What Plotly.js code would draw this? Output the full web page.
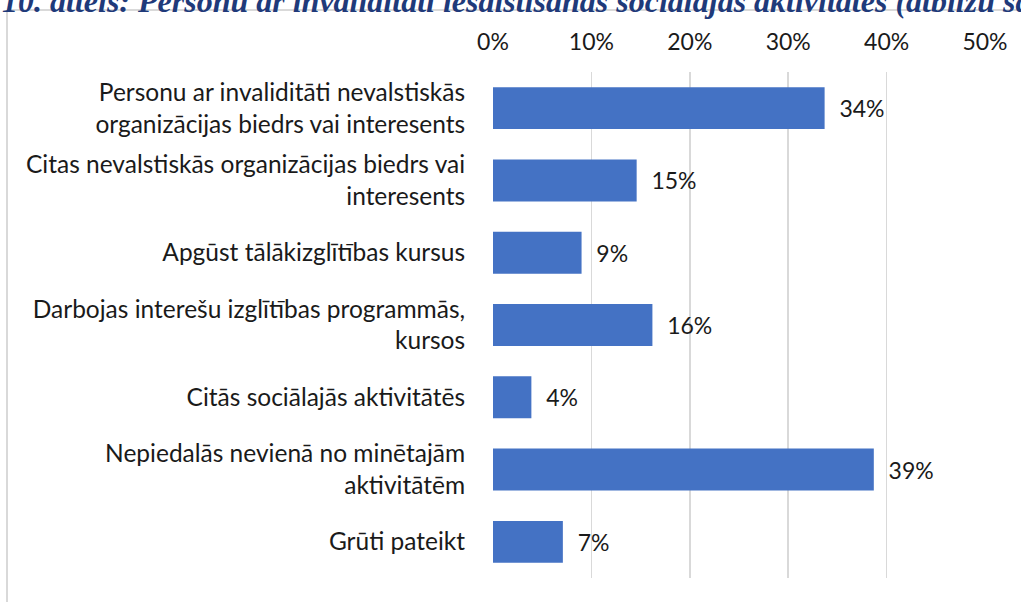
<!DOCTYPE html>
<html>
<head>
<meta charset="utf-8">
<script src="https://cdn.plot.ly/plotly-3.0.1.min.js"></script>
<style>html,body{margin:0;padding:0;background:#fff;}#chart{width:1021px;height:602px;}</style>
</head>
<body>
<div id="chart"></div>
<script>
var categories = [
  "Personu ar invaliditāti nevalstiskās<br>organizācijas biedrs vai interesents",
  "Citas nevalstiskās organizācijas biedrs vai<br>interesents",
  "Apgūst tālākizglītības kursus",
  "Darbojas interešu izglītības programmās,<br>kursos",
  "Citās sociālajās aktivitātēs",
  "Nepiedalās nevienā no minētajām<br>aktivitātēm",
  "Grūti pateikt"
];
var values = [33.7, 14.6, 9.0, 16.2, 3.9, 38.7, 7.1];
var tickValues = [0, 10, 20, 30, 40, 50];
var tickLabels = ["0%", "10%", "20%", "30%", "40%", "50%"];
var titleText = "10. attēls: Personu ar invaliditāti iesaistīšanās sociālajās aktivitātēs (atbilžu sadalījums)";

var L = 493, R = 36, T = 72, B = 24, W = 1021, H = 602;
var pw = W - L - R, ph = H - T - B;
function px(x){ return (x - L) / pw; }
function py(y){ return (H - B - y) / ph; }

var font = "Lato, Noto Sans, sans-serif";

var trace = {
  type: "bar",
  orientation: "h",
  y: categories,
  x: values,
  marker: {color: "#4472C4"},
  width: 0.58,
  text: values,
  texttemplate: "  %{x:.0f}%",
  textposition: "outside",
  cliponaxis: false,
  textfont: {family: font, size: 23, color: "#1a1a1a"},
  hoverinfo: "none"
};

var layout = {
  width: W, height: H,
  margin: {l: L, r: R, t: T, b: B, pad: 0},
  paper_bgcolor: "#fff",
  plot_bgcolor: "#fff",
  showlegend: false,
  xaxis: {
    side: "top",
    range: [0, 50],
    tickvals: tickValues,
    ticktext: tickLabels,
    showgrid: true,
    gridcolor: "#d9d9d9",
    gridwidth: 1.5,
    zeroline: false,
    showline: false,
    ticks: "outside",
    ticklen: 12,
    tickcolor: "rgba(0,0,0,0)",
    tickfont: {family: font, size: 23, color: "#1a1a1a"},
    fixedrange: true
  },
  yaxis: {
    autorange: "reversed",
    showgrid: false,
    zeroline: false,
    showline: false,
    ticks: "outside",
    ticklen: 22,
    tickcolor: "rgba(0,0,0,0)",
    tickfont: {family: font, size: 24.5, color: "#1a1a1a"},
    fixedrange: true
  },
  shapes: [
    {type: "line", xref: "paper", yref: "paper", x0: px(7), x1: px(7), y0: py(H + 10), y1: py(10), line: {color: "#d9d9d9", width: 2}},
    {type: "line", xref: "paper", yref: "paper", x0: px(7), x1: px(W + 10), y0: py(10), y1: py(10), line: {color: "#d9d9d9", width: 2}}
  ],
  annotations: [
    {text: "<b><i>" + titleText + "</i></b>", xref: "paper", yref: "paper", x: px(0), y: py(1), xanchor: "left", yanchor: "middle", showarrow: false,
     font: {family: "Liberation Serif, Times New Roman, serif", size: 32, color: "#1F3A7A"}}
  ]
};

Plotly.newPlot("chart", [trace], layout, {displayModeBar: false, staticPlot: true});
</script>
</body>
</html>
